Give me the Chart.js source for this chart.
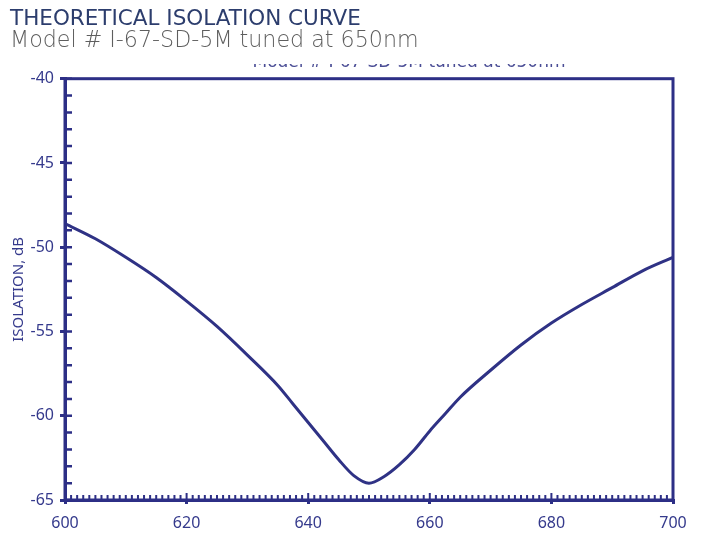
<!DOCTYPE html>
<html>
<head>
<meta charset="utf-8">
<script src="https://cdn.jsdelivr.net/npm/chart.js@4/dist/chart.umd.min.js"></script>
<style>
    html, body { margin: 0; padding: 0; background: #fff; }
    #wrap { width: 714px; height: 544px; }
</style>
</head>
<body>
<div id="wrap"><canvas id="isoChart"></canvas></div>
<script>
// Data
const wavelengths = [600, 605, 610, 615, 620, 625, 630, 635, 637.5, 640, 642.5, 645, 647.5, 650, 652.5, 655, 657.5, 660, 662.5, 665, 670, 675, 680, 685, 690, 695, 700];
const isolation   = [-48.6, -49.5, -50.6, -51.8, -53.2, -54.7, -56.4, -58.2, -59.3, -60.4, -61.5, -62.6, -63.55, -64.0, -63.6, -62.9, -62.0, -60.9, -59.9, -58.9, -57.3, -55.8, -54.5, -53.4, -52.4, -51.4, -50.6];
const xTicks = [600, 620, 640, 660, 680, 700];
const yTicks = [-65, -60, -55, -50, -45, -40];

const NAVY = '#2d2f86';
const LABEL = '#353a8c';

// Minor/inner ticks and the frame box
const frameTicks = {
    id: 'frameTicks',
    afterDatasetsDraw(chart) {
        const { ctx, chartArea: a, scales: { x, y } } = chart;
        ctx.save();
        ctx.strokeStyle = NAVY;
        ctx.lineWidth = 3;
        ctx.strokeRect(a.left, a.top, a.right - a.left, a.bottom - a.top);

        ctx.lineWidth = 2.5;
        ctx.beginPath();
        for (let v = -65; v <= -40; v++) {
            const py = y.getPixelForValue(v);
            ctx.moveTo(a.left, py);
            ctx.lineTo(a.left + 7, py);
        }
        ctx.stroke();

        ctx.lineWidth = 2;
        ctx.beginPath();
        for (let v = 600; v <= 700; v++) {
            const px = x.getPixelForValue(v);
            ctx.moveTo(px, a.bottom);
            ctx.lineTo(px, a.bottom - (v % 20 === 0 ? 7 : 5));
        }
        ctx.stroke();
        ctx.restore();
    }
};

// Clipped remains of the original caption behind the title
const ghostCaption = {
    id: 'ghostCaption',
    beforeDatasetsDraw(chart) {
        const ctx = chart.ctx;
        ctx.save();
        ctx.beginPath();
        ctx.rect(0, 64, 714, 3);
        ctx.clip();
        ctx.fillStyle = '#4a4d95';
        ctx.font = '17px "DejaVu Sans"';
        ctx.textAlign = 'center';
        ctx.textBaseline = 'alphabetic';
        ctx.fillText('Model # I-67-SD-5M tuned at 650nm', 409, 66.5);
        ctx.restore();
    }
};

new Chart(document.getElementById('isoChart'), {
    type: 'line',
    data: {
        labels: wavelengths,
        datasets: [{
            data: wavelengths.map((w, i) => ({ x: w, y: isolation[i] })),
            borderColor: '#2f3285',
            borderWidth: 3,
            pointRadius: 0,
            cubicInterpolationMode: 'monotone',
            fill: false
        }]
    },
    options: {
        responsive: true,
        maintainAspectRatio: false,
        animation: false,
        layout: { padding: { left: 10, right: 41, top: 0, bottom: 0 } },
        plugins: {
            legend: { display: false },
            tooltip: { enabled: false },
            title: {
                display: true,
                text: 'THEORETICAL ISOLATION CURVE',
                align: 'start',
                color: '#2c3d6d',
                font: { family: '"DejaVu Sans"', size: 21.5, weight: 'normal', lineHeight: 1.0 },
                padding: { top: 8.5, bottom: 0 }
            },
            subtitle: {
                display: true,
                text: 'Model # I-67-SD-5M tuned at 650nm',
                align: 'start',
                color: '#5e5e5e',
                font: { family: '"DejaVu Sans"', size: 22.2, weight: 200, lineHeight: 1.0 },
                padding: { top: 0.5, bottom: 26 }
            }
        },
        scales: {
            x: {
                type: 'linear',
                min: 600,
                max: 700,
                afterBuildTicks: s => { s.ticks = xTicks.map(v => ({ value: v })); },
                afterFit: s => { s.height = 44; },
                border: { display: true, color: NAVY, width: 3 },
                grid: { drawOnChartArea: false, color: NAVY, lineWidth: 3, tickLength: 4 },
                ticks: { color: LABEL, padding: 10, font: { family: '"Noto Sans"', size: 16 } }
            },
            y: {
                min: -65,
                max: -40,
                afterBuildTicks: s => { s.ticks = yTicks.map(v => ({ value: v })); },
                afterFit: s => { s.width = 55; },
                border: { display: true, color: NAVY, width: 3 },
                grid: { drawOnChartArea: false, color: NAVY, lineWidth: 3, tickLength: 5 },
                ticks: { color: LABEL, padding: 6, font: { family: '"Noto Sans"', size: 16 } },
                title: {
                    display: true,
                    text: 'ISOLATION, dB',
                    color: LABEL,
                    padding: { top: 0, bottom: 0 },
                    font: { family: '"Noto Sans"', size: 15 }
                }
            }
        }
    },
    plugins: [frameTicks, ghostCaption]
});
</script>
</body>
</html>
